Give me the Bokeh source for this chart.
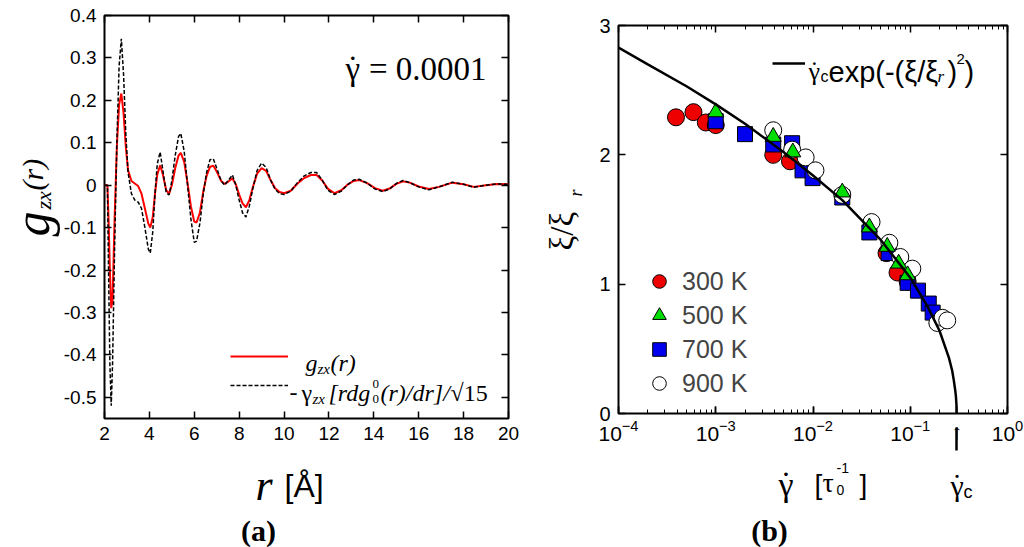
from bokeh.embed import file_html
from bokeh.layouts import column, row
from bokeh.models import (CustomJSTickFormatter, FixedTicker, Label, Legend, LegendItem,
                          LinearAxis, LogAxis, LogTicker, Range1d)
from bokeh.plotting import figure
from bokeh.resources import INLINE

# ---- panel (a): shear part of the pair distribution ----
R = [2.0, 2.13, 2.18, 2.24, 2.3, 2.36, 2.45, 2.55, 2.65, 2.75,
     2.85, 2.95, 3.05, 3.2, 3.35, 3.5, 3.65, 3.8, 3.95, 4.04,
     4.15, 4.25, 4.35, 4.48, 4.6, 4.75, 4.88, 5.0, 5.15, 5.3,
     5.4, 5.55, 5.7, 5.85, 6.0, 6.1, 6.25, 6.4, 6.55, 6.7,
     6.85, 7.0, 7.2, 7.35, 7.5, 7.7, 7.85, 8.0, 8.15, 8.3,
     8.45, 8.6, 8.8, 9.0, 9.2, 9.4, 9.6, 9.8, 10.0, 10.3,
     10.6, 10.9, 11.2, 11.45, 11.7, 11.95, 12.25, 12.55, 12.85, 13.1,
     13.35, 13.7, 14.05, 14.4, 14.7, 15.0, 15.3, 15.6, 16.0, 16.45,
     16.9, 17.5, 18.0, 18.45, 19.0, 19.5, 20.0]
G_ZX = [0.0, 0.0, -0.08, -0.2, -0.29, -0.27, -0.08, 0.09, 0.19, 0.216,
        0.17, 0.09, 0.035, 0.01, 0.004, -0.002, -0.02, -0.055, -0.09, -0.10,
        -0.075, -0.02, 0.025, 0.047, 0.025, -0.012, -0.02, 0.0, 0.04, 0.07,
        0.076, 0.055, 0.005, -0.05, -0.086, -0.088, -0.065, -0.015, 0.022, 0.043,
        0.046, 0.032, 0.01, 0.003, 0.008, 0.016, 0.002, -0.022, -0.043, -0.052,
        -0.036, -0.006, 0.027, 0.04, 0.034, 0.012, -0.007, -0.016, -0.019, -0.013,
        0.004, 0.017, 0.024, 0.024, 0.011, -0.008, -0.019, -0.012, 0.002, 0.01,
        0.012, 0.005, -0.007, -0.013, -0.008, 0.003, 0.009, 0.006, -0.003, -0.009,
        -0.004, 0.006, 0.002, -0.004, 0.0, 0.003, 0.002]
G_AFFINE = [0.0, 0.0, -0.2, -0.42, -0.52, -0.42, -0.15, 0.1, 0.28, 0.345,
            0.26, 0.12, 0.03, -0.02, -0.035, -0.04, -0.055, -0.1, -0.15, -0.16,
            -0.11, -0.02, 0.05, 0.078, 0.035, -0.018, -0.023, 0.01, 0.07, 0.115,
            0.122, 0.08, 0.0, -0.08, -0.135, -0.132, -0.09, -0.02, 0.03, 0.06,
            0.062, 0.04, 0.01, 0.0, 0.01, 0.024, 0.0, -0.035, -0.065, -0.075,
            -0.05, -0.01, 0.035, 0.052, 0.042, 0.012, -0.01, -0.02, -0.022, -0.014,
            0.006, 0.022, 0.03, 0.03, 0.012, -0.012, -0.022, -0.014, 0.002, 0.012,
            0.014, 0.005, -0.009, -0.015, -0.009, 0.004, 0.011, 0.006, -0.004, -0.011,
            -0.004, 0.007, 0.002, -0.005, 0.0, 0.003, 0.002]
R_TICKS = [2, 4, 6, 8, 10, 12, 14, 16, 18, 20]
G_TICKS = [-0.5, -0.4, -0.3, -0.2, -0.1, 0, 0.1, 0.2, 0.3, 0.4]
G_TICK_LABELS = ["-0.5", "-0.4", "-0.3", "-0.2", "-0.1", "0", "0.1", "0.2", "0.3", "0.4"]

# ---- panel (b): correlation length against shear rate ----
RATE_300 = [3.9e-4, 5.9e-4, 7.9e-4, 1.0e-3, 3.9e-3, 5.8e-3, 0.057, 0.074, 0.094]
XI_300 = [2.29, 2.33, 2.25, 2.23, 2.00, 1.95, 1.24, 1.09, 1.02]
RATE_500 = [1.0e-3, 3.9e-3, 6.2e-3, 0.02, 0.038, 0.058, 0.076, 0.094]
XI_500 = [2.33, 2.14, 2.02, 1.71, 1.44, 1.29, 1.16, 1.07]
RATE_700 = [1.0e-3, 2.0e-3, 3.9e-3, 6.1e-3, 7.8e-3, 9.9e-3, 0.02, 0.038, 0.06,
            0.094, 0.12, 0.155, 0.17]
XI_700 = [2.26, 2.16, 2.08, 2.09, 1.88, 1.82, 1.67, 1.40, 1.24, 1.01, 0.95, 0.85, 0.78]
RATE_900 = [3.9e-3, 6.1e-3, 8.4e-3, 0.0106, 0.02, 0.04, 0.061, 0.079, 0.105, 0.19, 0.215, 0.24]
XI_900 = [2.19, 2.04, 1.98, 1.88, 1.69, 1.48, 1.32, 1.21, 1.12, 0.70, 0.74, 0.72]
FIT_RATE = [1e-4, 2e-4, 5e-4, 1e-3, 2e-3, 5e-3, 1e-2, 2e-2, 5e-2, 0.1,
            0.15, 0.2, 0.25, 0.27, 0.28, 0.29, 0.295, 0.299, 0.3]
FIT_XI = [2.83, 2.70, 2.53, 2.39, 2.24, 2.02, 1.84, 1.65, 1.34, 1.05,
          0.83, 0.64, 0.43, 0.33, 0.26, 0.18, 0.13, 0.06, 0.0]
GAMMA_C = 0.3
RATE_TICKS = [1e-4, 1e-3, 1e-2, 1e-1, 1]
XI_TICKS = [0, 1, 2, 3]

SERIF = "Liberation Serif"
SANS = "Liberation Sans"
NO_LABELS = CustomJSTickFormatter(code="return ''")


def style_axis(axis, size, show_labels=True):
    axis.axis_label = None
    axis.axis_label_standoff = 0
    axis.axis_line_color = None
    axis.major_tick_in = 7
    axis.major_tick_out = 0
    axis.major_tick_line_width = 1.5
    axis.major_tick_line_color = "black"
    axis.minor_tick_in = 0
    axis.minor_tick_out = 0
    axis.major_label_text_font = SANS
    axis.major_label_text_color = "black"
    axis.major_label_text_font_size = f"{size}px"
    axis.major_label_standoff = 8
    if not show_labels:
        axis.formatter = NO_LABELS
        axis.major_label_text_font_size = "0px"
        axis.major_label_standoff = 0


def put(p, text, x, y, size, font=SERIF, style="normal", angle=0, align="left", offset=(0, 0)):
    p.add_layout(Label(x=x, y=y, x_offset=offset[0], y_offset=offset[1],
                       text=text, text_font=font, text_font_size=f"{size}px",
                       text_font_style=style, text_color="black", angle=angle,
                       angle_units="deg", text_align=align, text_baseline="alphabetic"))


class Pane:
    """Labels placed by picture pixels (X from left, Y from top), relative to a frame corner."""

    def __init__(self, p, left, bottom):
        self.p, self.left, self.bottom = p, left, bottom

    def text(self, text, X, Y, size, **kw):
        put(self.p, text, self.p.x_range.start, self.p.y_range.start, size,
            offset=(X - self.left, self.bottom - Y), **kw)

    def gamma_dot(self, X, Y, size):
        self.text("γ", X, Y, size)
        self.text("˙", X + 0.22 * size, Y - 0.02 * size, size, align="center")


def text_fig(width, height, top=0, bottom=0):
    f = figure(width=width, height=height, x_range=Range1d(0, 1), y_range=Range1d(0, 1),
               x_axis_location=None, y_axis_location=None, output_backend="svg",
               toolbar_location=None, title=None, min_border_left=0, min_border_right=0,
               min_border_top=top, min_border_bottom=bottom)
    f.xgrid.visible = False
    f.ygrid.visible = False
    f.outline_line_color = None
    return f


def frame_box(p):
    p.xgrid.visible = False
    p.ygrid.visible = False
    p.outline_line_color = "black"
    p.outline_line_width = 2
    p.outline_line_alpha = 1.0


# ---------------- panel (a) ----------------
pa = figure(width=468, height=453, x_range=Range1d(2, 20), y_range=Range1d(-0.55, 0.4),
            output_backend="svg", toolbar_location=None, title=None,
            min_border_left=42, min_border_right=20, min_border_top=15, min_border_bottom=35)
frame_box(pa)
pa.xaxis.ticker = FixedTicker(ticks=R_TICKS)
pa.yaxis.ticker = FixedTicker(ticks=G_TICKS)
pa.yaxis.major_label_overrides = dict(zip(G_TICKS, G_TICK_LABELS))
style_axis(pa.xaxis[0], 19)
style_axis(pa.yaxis[0], 19)
top_a = LinearAxis(ticker=FixedTicker(ticks=R_TICKS))
right_a = LinearAxis(ticker=FixedTicker(ticks=G_TICKS))
style_axis(top_a, 19, False)
style_axis(right_a, 19, False)
pa.add_layout(top_a, "above")
pa.add_layout(right_a, "right")

red = pa.line(R, G_ZX, line_color="#ff0000", line_width=2)
dash = pa.line(R, G_AFFINE, line_color="black", line_width=1.5, line_dash="4 2")

leg_a = Legend(items=[LegendItem(label=" ", renderers=[red]),
                      LegendItem(label=" ", renderers=[dash])],
               location=(126, 22), glyph_width=58, glyph_height=22, label_height=22,
               spacing=7, padding=0, margin=0, background_fill_alpha=0, border_line_alpha=0)
pa.add_layout(leg_a)

A = Pane(pa, 102, 418)
A.gamma_dot(343, 68, 33)
A.text("= 0.0001", 484, 68, 33, align="right")
A.text("g", 303, 362, 24, style="italic")
A.text("zx", 315, 368, 15, style="italic")
A.text("(r)", 328, 362, 24, style="italic")
A.text("-", 287, 392, 24)
A.text("γ", 299, 392, 24)
A.text("zx", 310, 398, 15, style="italic")
A.text("[rdg", 326, 392, 24, style="italic")
A.text("0", 370, 383, 13)
A.text("0", 370, 398, 13)
A.text("(r)/dr]/", 378, 392, 24, style="italic")
A.text("√15", 448, 392, 24)

# ---------------- panel (b) ----------------
pb = figure(width=434, height=453, x_axis_type="log", x_range=Range1d(1e-4, 1),
            y_range=Range1d(0, 3), output_backend="svg", toolbar_location=None, title=None,
            min_border_left=28, min_border_right=17, min_border_top=25, min_border_bottom=40)
frame_box(pb)
pb.yaxis.ticker = FixedTicker(ticks=XI_TICKS, minor_ticks=[])
style_axis(pb.yaxis[0], 20)

# bottom axis: decade labels, and the arrow at the critical rate made of one
# long outward minor tick with an arrow label over its top
xb = pb.xaxis[0]
style_axis(xb, 21)
xb.ticker = FixedTicker(ticks=RATE_TICKS + [GAMMA_C], minor_ticks=[GAMMA_C])
xb.major_label_standoff = -31
xb.major_label_overrides = {GAMMA_C: "↑"}
xb.minor_tick_in = -14
xb.minor_tick_out = 37
xb.minor_tick_line_width = 2.5
xb.minor_tick_line_color = "black"

# short inward ticks along the bottom edge
ticks_b = LogAxis(ticker=LogTicker(num_minor_ticks=10), fixed_location=0)
style_axis(ticks_b, 21, False)
ticks_b.minor_tick_in = 4
ticks_b.minor_tick_line_color = "black"
pb.add_layout(ticks_b, "below")

top_b = LogAxis(ticker=LogTicker(num_minor_ticks=10))
right_b = LinearAxis(ticker=FixedTicker(ticks=XI_TICKS, minor_ticks=[]))
style_axis(top_b, 21, False)
top_b.minor_tick_in = 4
top_b.minor_tick_line_color = "black"
style_axis(right_b, 20, False)
pb.add_layout(top_b, "above")
pb.add_layout(right_b, "right")

s300 = pb.scatter(RATE_300, XI_300, marker="circle", size=17, fill_color="#ee0000",
                  line_color="black", line_width=1)
s700 = pb.scatter(RATE_700, XI_700, marker="square", size=15, fill_color="#0000ee",
                  line_color="black", line_width=1)
s900 = pb.scatter(RATE_900, XI_900, marker="circle", size=17, fill_color="white",
                  line_color="black", line_width=1)
s500 = pb.scatter(RATE_500, XI_500, marker="triangle", size=16, fill_color="#00dd00",
                  line_color="black", line_width=1)
fit = pb.line(FIT_RATE, FIT_XI, line_color="black", line_width=2.5)

leg_b = Legend(items=[LegendItem(label="300 K", renderers=[s300]),
                      LegendItem(label="500 K", renderers=[s500]),
                      LegendItem(label="700 K", renderers=[s700]),
                      LegendItem(label="900 K", renderers=[s900])],
               location=(24, 13), glyph_width=34, glyph_height=34, label_height=34,
               spacing=0, padding=0, margin=0, label_standoff=6,
               label_text_font=SANS, label_text_font_size="25px",
               background_fill_alpha=0, border_line_alpha=0)
leg_fit = Legend(items=[LegendItem(label=" ", renderers=[fit])],
                 location=(154, 340), glyph_width=33, glyph_height=20, padding=0,
                 margin=0, background_fill_alpha=0, border_line_alpha=0)
pb.add_layout(leg_b)
pb.add_layout(leg_fit)

B = Pane(pb, 618, 413)
B.gamma_dot(808, 71, 26)
B.text("c", 820, 76, 16, font=SANS)
B.text("exp(-(ξ/ξ", 828, 71, 29, font=SANS)
B.text("r", 937, 76, 17, style="italic")
B.text(")", 947, 71, 29, font=SANS)
B.text("2", 956, 58, 15, font=SANS)
B.text(")", 964, 71, 29, font=SANS)

# ---------------- axis titles and captions ----------------
yl_a = text_fig(60, 453, top=15, bottom=35)
YA = Pane(yl_a, 0, 418)
YA.text("g", 31, 236, 50, style="italic", angle=90)
YA.text("zx", 43, 209, 22, style="italic", angle=90)
YA.text("(r)", 32, 190, 30, style="italic", angle=90)

yl_b = text_fig(62, 453, top=25, bottom=40)
YB = Pane(yl_b, 528, 413)
YB.text("ξ/ξ", 561, 250, 33, angle=90)
YB.text("r", 575, 196, 18, style="italic", angle=90)

bottom = text_fig(1024, 94)
BT = Pane(bottom, 0, 547)
BT.text("r", 255, 485, 44, style="italic")
BT.text("[Å]", 284, 485, 32, font=SANS)
BT.text("(a)", 258, 530, 30, style="bold", align="center")
BT.gamma_dot(778, 484, 34)
BT.text("[", 814, 484, 28, font=SANS)
BT.text("τ", 822, 482, 28)
BT.text("0", 836, 489, 14, font=SANS)
BT.text("-1", 836, 467, 14, font=SANS)
BT.text("]", 859, 484, 28, font=SANS)
BT.gamma_dot(950, 485, 30)
BT.text("c", 963, 491, 18, font=SANS)
BT.text("(b)", 769, 530, 30, style="bold", align="center")

layout = column(row(row(yl_a, pa), row(yl_b, pb)), bottom)
open("out.html", "w").write(file_html(layout, INLINE))
